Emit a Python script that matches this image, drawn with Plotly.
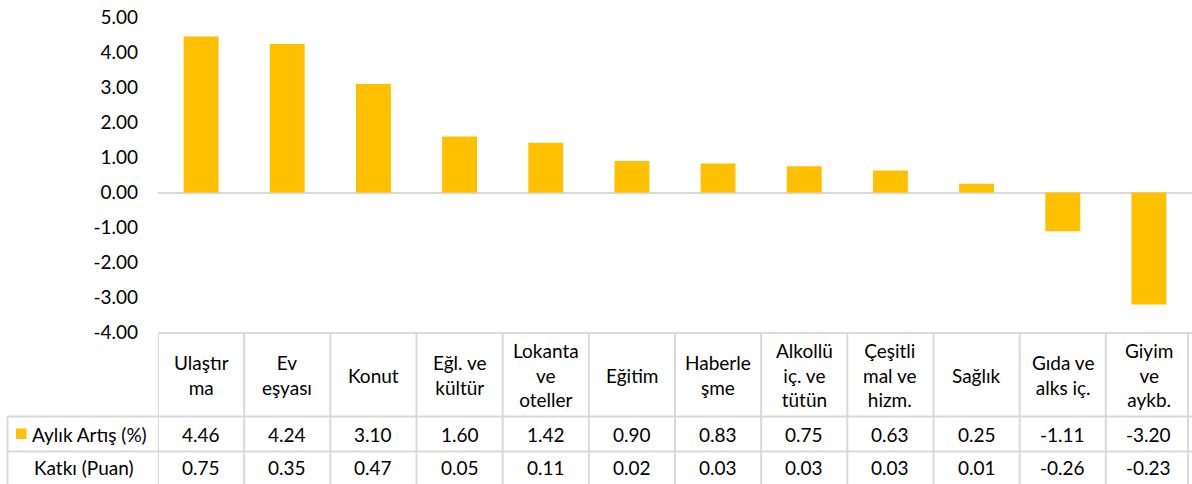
import plotly.graph_objects as go

categories = ["Ulaştır<br>ma", "Ev<br>eşyası", "Konut", "Eğl. ve<br>kültür", "Lokanta<br>ve<br>oteller",
              "Eğitim", "Haberle<br>şme", "Alkollü<br>iç. ve<br>tütün", "Çeşitli<br>mal ve<br>hizm.",
              "Sağlık", "Gıda ve<br>alks iç.", "Giyim<br>ve<br>aykb."]
aylik_artis = [4.46, 4.24, 3.10, 1.60, 1.42, 0.90, 0.83, 0.75, 0.63, 0.25, -1.11, -3.20]
katki = [0.75, 0.35, 0.47, 0.05, 0.11, 0.02, 0.03, 0.03, 0.03, 0.01, -0.26, -0.23]
row_labels = ["Aylık Artış (%)", "Katkı (Puan)"]
y_ticks = [5, 4, 3, 2, 1, 0, -1, -2, -3, -4]
y_ticktext = ["5.00", "4.00", "3.00", "2.00", "1.00", "0.00", "-1.00", "-2.00", "-3.00", "-4.00"]

W, H = 1192, 484
L = 158
PW = W - L
FONT = "Lato"
FS = 19
GOLD = "#FFC000"
GRID = "#D9D9D9"
TXT = "#000000"

def py(p):
    return 1 - p / H

def px(p):
    return (p - L) / PW

n = len(categories)
xs = list(range(n))

fig = go.Figure()
fig.add_trace(go.Bar(x=xs, y=aylik_artis, width=0.405, marker=dict(color=GOLD, line=dict(width=0)),
                     name=row_labels[0], showlegend=False, hoverinfo="skip"))

shapes = []
line = dict(color=GRID, width=2)
shapes.append(dict(type="line", xref="paper", yref="paper", x0=0, x1=1, y0=py(333), y1=py(333), line=line))
for yy in (416.5, 451.5):
    shapes.append(dict(type="line", xref="paper", yref="paper", x0=px(7.5), x1=1, y0=py(yy), y1=py(yy), line=line))
shapes.append(dict(type="line", xref="paper", yref="paper", x0=px(7.5), x1=px(7.5), y0=py(416.5), y1=0, line=line))
for k in range(n):
    shapes.append(dict(type="line", xref="x", yref="paper", x0=k - 0.5, x1=k - 0.5, y0=py(333), y1=0, line=line))
shapes.append(dict(type="line", xref="x", yref="paper", x0=n - 0.545, x1=n - 0.545, y0=py(333), y1=0, line=line))
shapes.append(dict(type="rect", xref="paper", yref="paper", x0=px(16), x1=px(26.5), y0=py(439), y1=py(428.5),
                   fillcolor=GOLD, line=dict(width=0)))

ann = []
for i, c in enumerate(categories):
    ann.append(dict(x=i, y=py(375), xref="x", yref="paper", text=c, showarrow=False,
                    font=dict(family=FONT, size=FS, color=TXT), align="center", yanchor="middle"))
    ann.append(dict(x=i, y=py(434), xref="x", yref="paper", text=f"{aylik_artis[i]:.2f}", showarrow=False,
                    font=dict(family=FONT, size=FS, color=TXT), yanchor="middle"))
    ann.append(dict(x=i, y=py(467.5), xref="x", yref="paper", text=f"{katki[i]:.2f}", showarrow=False,
                    font=dict(family=FONT, size=FS, color=TXT), yanchor="middle"))
ann.append(dict(x=px(30), y=py(434), xref="paper", yref="paper", text=row_labels[0], showarrow=False,
                xanchor="left", yanchor="middle", font=dict(family=FONT, size=FS, color=TXT)))
ann.append(dict(x=px(84), y=py(467.5), xref="paper", yref="paper", text=row_labels[1], showarrow=False,
                xanchor="center", yanchor="middle", font=dict(family=FONT, size=FS, color=TXT)))

fig.update_layout(
    width=W, height=H, autosize=False,
    margin=dict(l=L, r=0, t=0, b=0, pad=0, autoexpand=False),
    paper_bgcolor="white", plot_bgcolor="white",
    font=dict(family=FONT, size=FS, color=TXT),
    xaxis=dict(range=[-0.5, n - 0.5], showticklabels=False, showgrid=False, zeroline=False,
               showline=False, ticks="", automargin=False),
    yaxis=dict(range=[-4, 5], domain=[py(332.5), py(17.5)], tickvals=y_ticks, ticktext=y_ticktext,
               showgrid=False, zeroline=True, zerolinecolor=GRID, zerolinewidth=2, showline=False,
               ticks="", ticklabelstandoff=19, automargin=False,
               tickfont=dict(family=FONT, size=FS, color=TXT)),
    shapes=shapes, annotations=ann,
)

fig.write_html("out.html", config={"displayModeBar": False},
               post_script="document.body.style.margin='0';")
